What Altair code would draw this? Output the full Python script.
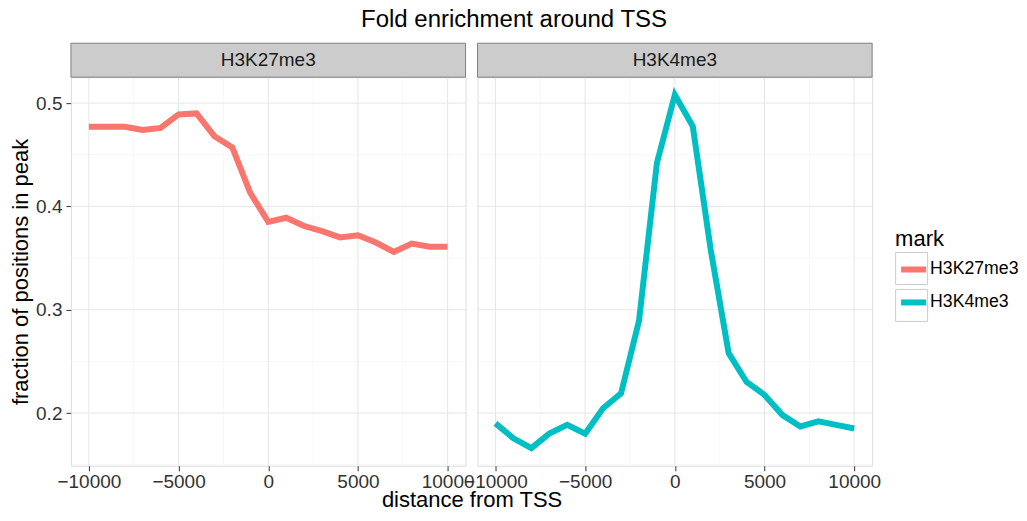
import altair as alt
import pandas as pd

positions = list(range(-10000, 10001, 1000))
h3k27me3 = [0.477, 0.477, 0.477, 0.474, 0.476, 0.489, 0.490, 0.468, 0.457, 0.413, 0.385,
            0.389, 0.381, 0.376, 0.370, 0.372, 0.365, 0.356, 0.364, 0.361, 0.361]
h3k4me3 = [0.190, 0.1755, 0.166, 0.180, 0.1885, 0.180, 0.2046, 0.219, 0.289, 0.442, 0.508,
           0.4775, 0.358, 0.258, 0.230, 0.2175, 0.198, 0.187, 0.192, 0.1885, 0.185]
marks = ["H3K27me3", "H3K4me3"]
colors = ["#F8766D", "#00BFC4"]
x_major = [-10000, -5000, 0, 5000, 10000]
x_minor = [-7500, -2500, 2500, 7500]
y_major = [0.2, 0.3, 0.4, 0.5]
y_minor = [0.15, 0.25, 0.35, 0.45]

df = pd.DataFrame({
    "distance": positions * 2,
    "value": h3k27me3 + h3k4me3,
    "mark": [marks[0]] * len(positions) + [marks[1]] * len(positions),
})
key_names = [m + " key" for m in marks]
df["key"] = df["mark"] + " key"

FONT = "Liberation Sans"
W, H = 395, 389
STRIP = 34
xs = alt.Scale(domain=[-11000, 11000], nice=False, zero=False)
ys = alt.Scale(domain=[0.1489, 0.5251], nice=False, zero=False)
color_scale = alt.Scale(domain=marks, range=colors)


def panel(name, first):
    base = alt.Chart(df[df["mark"] == name])
    minx = alt.Chart(pd.DataFrame({"v": x_minor})).mark_rule(color="#f4f4f4", strokeWidth=0.6).encode(
        x=alt.X("v:Q", scale=xs))
    miny = alt.Chart(pd.DataFrame({"v": y_minor})).mark_rule(color="#f4f4f4", strokeWidth=0.6).encode(
        y=alt.Y("v:Q", scale=ys))
    majx = alt.Chart(pd.DataFrame({"v": x_major})).mark_rule(color="#e6e6e6", strokeWidth=1).encode(
        x=alt.X("v:Q", scale=xs))
    majy = alt.Chart(pd.DataFrame({"v": y_major})).mark_rule(color="#e6e6e6", strokeWidth=1).encode(
        y=alt.Y("v:Q", scale=ys))
    xaxis = alt.Axis(values=x_major, format="d", grid=False, tickColor="#333333", tickSize=5,
                     labelColor="#333333", labelFontSize=19, labelFont=FONT, labelPadding=2,
                     domain=False, labelFlush=False, labelOverlap=False,
                     title="distance from TSS" if first else None,
                     titleFont=FONT, titleFontSize=22, titleFontWeight="normal", titleColor="#000000",
                     titlePadding=-2, titleX=(2 * W + 12) / 2 if first else 0)
    if first:
        yaxis = alt.Axis(values=y_major, grid=False, tickColor="#333333", tickSize=5, format=".1f",
                         labelColor="#333333", labelFontSize=19, labelFont=FONT, labelPadding=4,
                         domain=False, title="fraction of positions in peak", titleFont=FONT,
                         titleFontSize=22, titleFontWeight="normal", titleColor="#000000", titlePadding=3)
    else:
        yaxis = alt.Axis(values=y_major, grid=False, ticks=False, labels=False, domain=False, title=None)
    line = base.mark_line(strokeWidth=6, strokeJoin="miter", clip=True).encode(
        x=alt.X("distance:Q", scale=xs, axis=xaxis),
        y=alt.Y("value:Q", scale=ys, axis=yaxis),
        color=alt.Color("mark:N", scale=color_scale, legend=alt.Legend(
            title="mark", orient="none", legendX=825, legendY=152,
            symbolType="stroke", symbolStrokeWidth=6, symbolSize=625, rowPadding=5, symbolOffset=3,
            labelFontSize=17.7, labelFont=FONT, labelColor="#000000", labelOffset=1,
            titleFontSize=22, titleFont=FONT, titleFontWeight="normal", titleColor="#000000",
            titlePadding=3, zindex=2)),
    )
    keys = base.mark_point(clip=True).encode(
        x=alt.X("distance:Q", scale=xs),
        y=alt.Y("value:Q", scale=ys),
        size=alt.value(0),
        shape=alt.Shape("key:N", scale=alt.Scale(domain=key_names, range=["square", "square"]),
                        legend=alt.Legend(title=None, orient="none", legendX=825, legendY=175,
                                          symbolType="square", symbolSize=1024, symbolStrokeWidth=1,
                                          symbolStrokeColor="#cccccc", symbolFillColor="white",
                                          symbolOpacity=1, rowPadding=0, labelOpacity=0,
                                          labelFontSize=1, zindex=1)),
    )
    strip_df = pd.DataFrame({"mark": [name]})
    strip = alt.Chart(strip_df).mark_rect(fill="#cccccc", stroke="#7f7f7f", strokeWidth=1).encode(
        x=alt.value(0), x2=alt.value(W), y=alt.value(-STRIP), y2=alt.value(0))
    strip_text = alt.Chart(strip_df).mark_text(font=FONT, fontSize=19, color="#1a1a1a").encode(
        text="mark:N", x=alt.value(W / 2), y=alt.value(-STRIP / 2))
    return alt.layer(minx, miny, majx, majy, keys, line, strip, strip_text).properties(width=W, height=H)


chart = alt.hconcat(panel(marks[0], True), panel(marks[1], False), spacing=12, bounds="flush").properties(
    title=alt.Title("Fold enrichment around TSS", font=FONT, fontSize=24, fontWeight="normal",
                    color="#000000", anchor="middle", offset=8, dy=-2),
    padding={"left": 1, "top": 0, "right": 0, "bottom": -5},
).configure_view(stroke="#7f7f7f", strokeWidth=1).configure(background="white")

chart.save("out.html", embed_options={"renderer": "svg", "actions": False})
